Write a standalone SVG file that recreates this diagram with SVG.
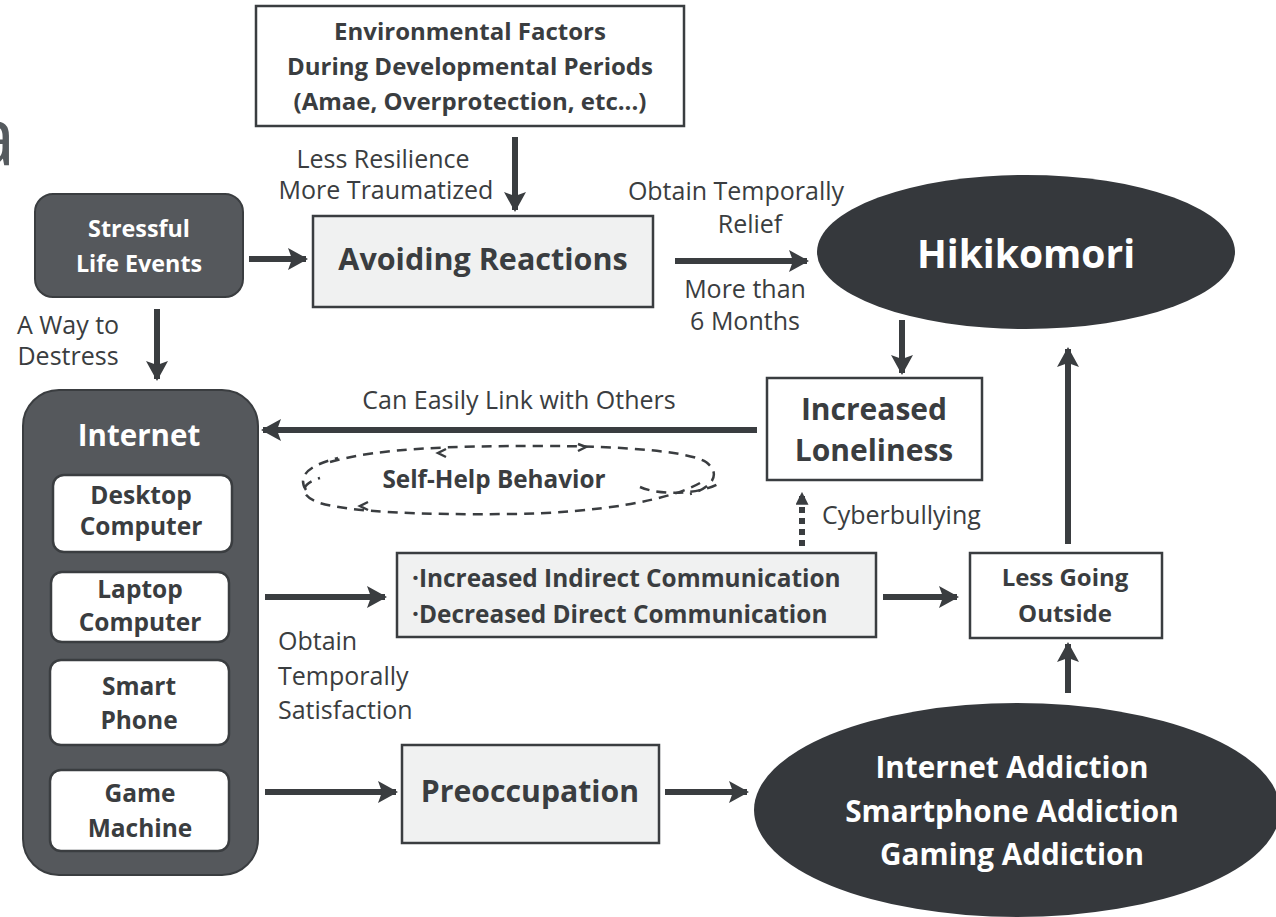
<svg xmlns="http://www.w3.org/2000/svg" width="1276" height="917" viewBox="0 0 1276 917">
<defs>
<marker id="ah" markerUnits="userSpaceOnUse" markerWidth="20" markerHeight="22" viewBox="0 0 20 22" refX="18" refY="11" orient="auto">
<path d="M0,0 L20,11 L0,22 L4,11 Z" fill="#3a3d40"/>
</marker>
<marker id="ahs" markerUnits="userSpaceOnUse" markerWidth="13" markerHeight="13" viewBox="0 0 12 12" refX="10" refY="6" orient="auto">
<path d="M0,0 L12,6 L0,12 Z" fill="#3a3d40"/>
</marker>
</defs>
<style>
text{font-family:"Open Sans","Noto Sans","Liberation Sans",sans-serif;fill:#3a3d40}
.b{font-weight:bold}
.w{fill:#ffffff;font-weight:bold}
.c{text-anchor:middle}
.box{fill:#ffffff;stroke:#3a3d40;stroke-width:2.5}
.gbox{fill:#f0f1f1;stroke:#3a3d40;stroke-width:2.5}
.dark{fill:#55585c;stroke:#3a3d40;stroke-width:2}
.arr{stroke:#3a3d40;stroke-width:6;fill:none;marker-end:url(#ah)}
.lbl{font-size:25px}
.chev{fill:none;stroke:#3a3d40;stroke-width:2.5}
</style>
<rect width="1276" height="917" fill="#ffffff"/>
<text x="-29" y="165" style="font-size:80px;fill:#555a5e">a</text>

<g id="connectors">
<line class="arr" x1="515" y1="137" x2="515" y2="210"/>
<line class="arr" x1="249" y1="259" x2="306" y2="259"/>
<line class="arr" x1="157" y1="309" x2="157" y2="379"/>
<line class="arr" x1="675" y1="261" x2="807" y2="261"/>
<line class="arr" x1="902" y1="320" x2="902" y2="373"/>
<line class="arr" x1="757" y1="430" x2="263" y2="430"/>
<line class="arr" x1="265" y1="597" x2="385" y2="597"/>
<line class="arr" x1="883" y1="597" x2="957" y2="597"/>
<line class="arr" x1="1068" y1="544" x2="1068" y2="349"/>
<line class="arr" x1="1068" y1="693" x2="1068" y2="644"/>
<line class="arr" x1="265" y1="792" x2="396" y2="792"/>
<line class="arr" x1="665" y1="792" x2="747" y2="792"/>
<line x1="802" y1="546" x2="802" y2="494" stroke="#3a3d40" stroke-width="6" stroke-dasharray="6,5" marker-end="url(#ahs)"/>
</g>

<g id="self-help">
<g fill="none" stroke="#3a3d40" stroke-width="2.5" stroke-dasharray="10,7">
<path d="M330,462 C380,448 450,446 540,446 C630,446 690,452 706,462 C722,474 712,488 690,494"/>
<path d="M700,483 C670,500 600,513 510,514 C420,515 350,512 320,503 C300,496 298,485 320,478"/>
<path d="M306,490 C298,478 305,466 338,458"/>
<path d="M640,487 C660,496 700,494 718,484"/>
</g>
<path class="chev" d="M446,449 L438,453 L446,457"/>
<path class="chev" d="M578,444 L586,447 L578,451"/>
<path class="chev" d="M368,502 L360,506 L368,510"/>
<text class="b c" x="494" y="488" style="font-size:24.3px">Self-Help Behavior</text>
</g>

<g id="env-factors">
<rect class="box" x="256" y="6" width="428" height="120"/>
<text class="b c" x="470" y="40" style="font-size:24px">Environmental Factors</text>
<text class="b c" x="470" y="75" style="font-size:24px">During Developmental Periods</text>
<text class="b c" x="470" y="110" style="font-size:24px">(Amae, Overprotection, etc...)</text>
</g>
<g id="lbl-resilience">
<text class="c lbl" x="383" y="168">Less Resilience</text>
<text class="c lbl" x="386" y="199">More Traumatized</text>
</g>

<g id="stressful">
<rect class="dark" x="35" y="194" width="208" height="103" rx="18"/>
<text class="w c" x="139" y="237" style="font-size:23.3px">Stressful</text>
<text class="w c" x="139" y="272" style="font-size:23.3px">Life Events</text>
</g>
<g id="lbl-destress">
<text class="c lbl" x="68" y="334">A Way to</text>
<text class="c lbl" x="68" y="365">Destress</text>
</g>

<g id="avoiding">
<rect class="gbox" x="313" y="216" width="340" height="91"/>
<text class="b c" x="483" y="270" style="font-size:30.5px">Avoiding Reactions</text>
</g>
<g id="lbl-relief">
<text class="c lbl" x="736" y="200">Obtain Temporally</text>
<text class="c lbl" x="750" y="233">Relief</text>
<text class="c lbl" x="745" y="298">More than</text>
<text class="c lbl" x="745" y="330">6 Months</text>
</g>

<g id="hikikomori">
<ellipse cx="1026" cy="252" rx="209" ry="77" fill="#35383c"/>
<text class="w c" x="1026" y="268" style="font-size:39px">Hikikomori</text>
</g>

<g id="loneliness">
<rect class="box" x="767" y="378" width="215" height="102"/>
<text class="b c" x="874" y="420" style="font-size:30px">Increased</text>
<text class="b c" x="874" y="461" style="font-size:30px">Loneliness</text>
</g>
<text class="c lbl" x="519" y="409">Can Easily Link with Others</text>
<text class="lbl" x="822" y="524">Cyberbullying</text>

<g id="internet">
<rect class="dark" x="23" y="390" width="235" height="485" rx="36"/>
<text class="w c" x="139" y="446" style="font-size:29.5px">Internet</text>
<g id="desktop">
<rect class="box" x="53" y="475" width="179" height="77" rx="11"/>
<text class="b c" x="141" y="504" style="font-size:24.5px">Desktop</text>
<text class="b c" x="141" y="535" style="font-size:24.5px">Computer</text>
</g>
<g id="laptop">
<rect class="box" x="51" y="572" width="178" height="70" rx="11"/>
<text class="b c" x="140" y="598" style="font-size:24.5px">Laptop</text>
<text class="b c" x="140" y="631" style="font-size:24.5px">Computer</text>
</g>
<g id="smartphone">
<rect class="box" x="50" y="660" width="179" height="85" rx="11"/>
<text class="b c" x="139" y="695" style="font-size:24.5px">Smart</text>
<text class="b c" x="139" y="729" style="font-size:24.5px">Phone</text>
</g>
<g id="game">
<rect class="box" x="50" y="770" width="179" height="81" rx="11"/>
<text class="b c" x="140" y="802" style="font-size:24.5px">Game</text>
<text class="b c" x="140" y="837" style="font-size:24.5px">Machine</text>
</g>
</g>

<g id="communication">
<rect class="gbox" x="397" y="553" width="479" height="84"/>
<text class="b" x="412" y="587" style="font-size:24.4px">·Increased Indirect Communication</text>
<text class="b" x="412" y="623" style="font-size:24.4px">·Decreased Direct Communication</text>
</g>
<g id="lbl-satisfaction">
<text class="lbl" x="278" y="650">Obtain</text>
<text class="lbl" x="278" y="685">Temporally</text>
<text class="lbl" x="278" y="719">Satisfaction</text>
</g>

<g id="less-going">
<rect class="box" x="970" y="553" width="192" height="85"/>
<text class="b c" x="1065" y="586" style="font-size:24px">Less Going</text>
<text class="b c" x="1065" y="622" style="font-size:24px">Outside</text>
</g>

<g id="preoccupation">
<rect class="gbox" x="402" y="745" width="257" height="98"/>
<text class="b c" x="530" y="802" style="font-size:30.2px">Preoccupation</text>
</g>

<g id="addiction">
<ellipse cx="1017" cy="810" rx="263" ry="107" fill="#35383c"/>
<text class="w c" x="1012" y="778" style="font-size:29.7px">Internet Addiction</text>
<text class="w c" x="1012" y="822" style="font-size:29.7px">Smartphone Addiction</text>
<text class="w c" x="1012" y="865" style="font-size:29.7px">Gaming Addiction</text>
</g>
</svg>
